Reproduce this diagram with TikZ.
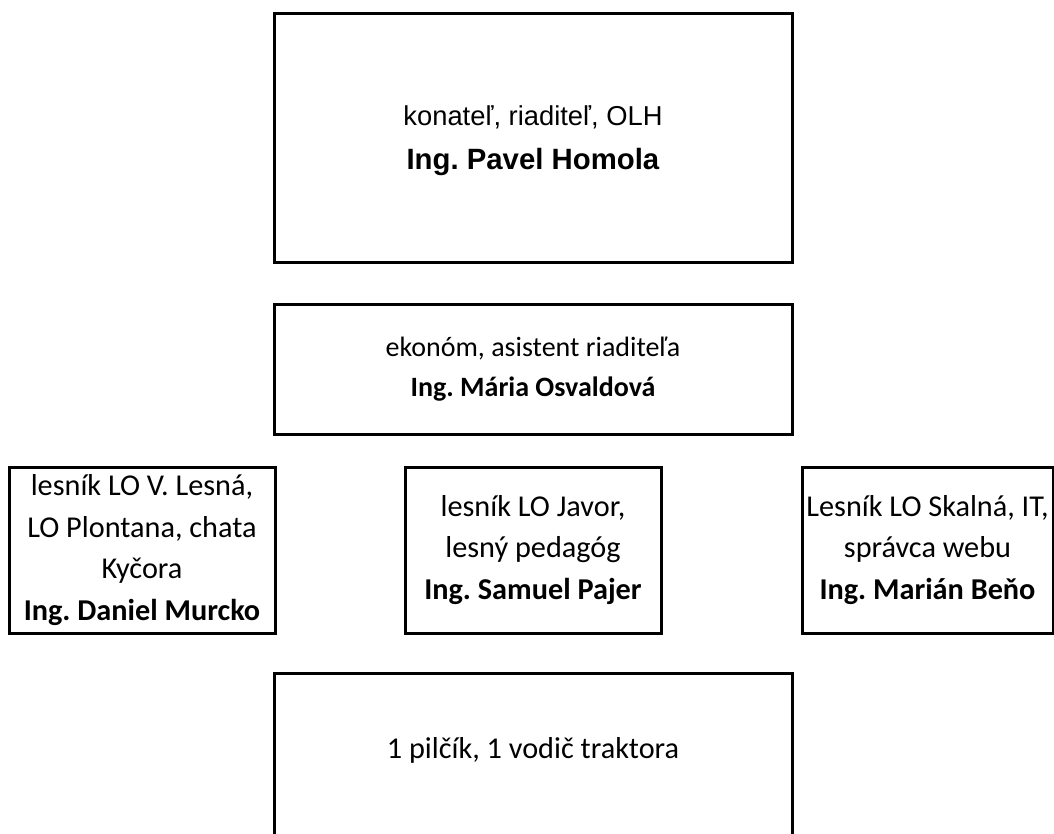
\documentclass[tikz,border=0pt]{standalone}
\usepackage{fontspec}
\setmainfont{Carlito}
\newfontfamily\arialf{Liberation Sans}
\frenchspacing
\begin{document}
\begin{tikzpicture}[x=0.75pt,y=-0.75pt,
  box/.style={draw=black, line width=2.25pt, inner sep=0pt, align=center,
    font=\fontsize{22.7}{31.3}\selectfont},
  topbox/.style={box, font=\arialf\fontsize{20.5}{33}\selectfont}]
\useasboundingbox (0,0) rectangle (1054,833);
\clip (0,0) rectangle (1054,833);
\node[topbox, minimum width=388.5pt, minimum height=186.75pt] (top) at (533,137.5) {};
\node[font=\arialf\fontsize{20.5}{33}\selectfont, align=center, inner sep=0pt] (toptxt) at (533,140.5)
  {konateľ, riaditeľ, OLH\\\fontsize{22}{33}\selectfont\textbf{Ing. Pavel Homola}};
\node[box, minimum width=388.5pt, minimum height=97.5pt, font=\fontsize{21}{30}\selectfont] (eko) at (533,369)
  {ekonóm, asistent riaditeľa\\\textbf{Ing. Mária Osvaldová}};
\node[box, minimum width=199.5pt, minimum height=124.5pt] (left) at (142,550)
  {lesník LO V. Lesná,\\LO Plontana, chata\\Kyčora\\\textbf{Ing. Daniel Murcko}};
\node[box, minimum width=192pt, minimum height=124.5pt] (mid) at (533,550)
  {lesník LO Javor,\\lesný pedagóg\\\textbf{Ing. Samuel Pajer}};
\node[box, minimum width=188.25pt, minimum height=124.5pt] (right) at (927.5,550)
  {Lesník LO Skalná, IT,\\správca webu\\\textbf{Ing. Marián Beňo}};
\node[box, minimum width=388.5pt, minimum height=126pt] (bot) at (533,757) {};
\node[font=\fontsize{22.7}{31.3}\selectfont, inner sep=0pt] (bottxt) at (533,750) {1 pilčík, 1 vodič traktora};
\end{tikzpicture}
\end{document}
